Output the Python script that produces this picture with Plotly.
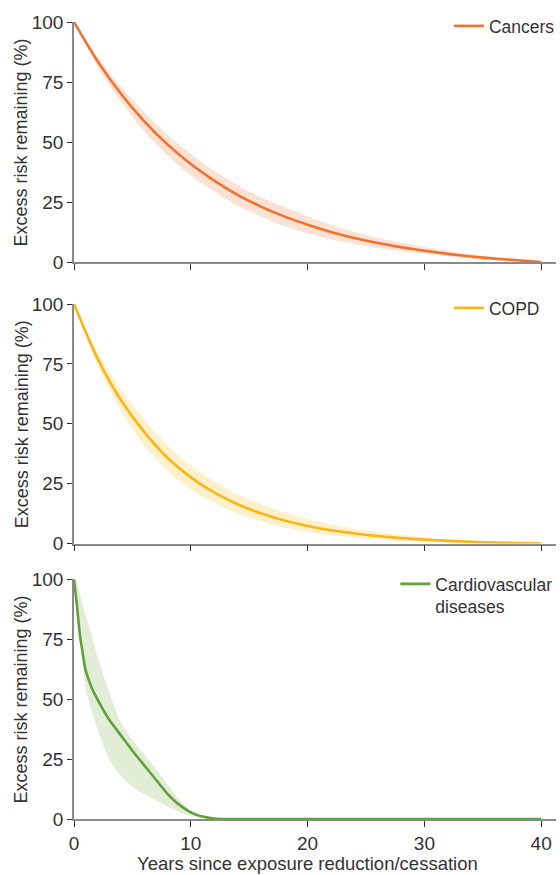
import plotly.graph_objects as go

# ---------------- data ----------------
years = [0, 2, 4, 6, 8, 10, 12, 14, 16, 18, 20, 22, 24, 26, 28, 30, 32, 34, 36, 38, 40]

cancer_mid = [100, 83.8, 70.2, 58.7, 49.0, 40.8, 33.9, 28.0, 23.1, 19.0, 15.5, 12.5, 10.0, 7.9, 6.2, 4.7, 3.4, 2.3, 1.4, 0.7, 0]
cancer_hi = [100, 85.5, 73.0, 62.5, 53.0, 45.0, 38.0, 32.0, 27.0, 23.0, 19.0, 15.5, 12.5, 10.0, 8.0, 6.2, 4.6, 3.2, 2.0, 1.0, 0]
cancer_lo = [100, 81.5, 67.0, 54.5, 44.5, 36.0, 29.5, 23.5, 19.0, 15.0, 12.0, 9.5, 7.5, 5.8, 4.5, 3.4, 2.4, 1.5, 0.9, 0.4, 0]

copd_mid = [100, 77.4, 60.0, 46.6, 35.8, 27.6, 21.3, 16.4, 12.6, 9.6, 7.3, 5.5, 4.2, 3.1, 2.3, 1.6, 1.1, 0.7, 0.4, 0.2, 0]
copd_hi = [100, 80.0, 64.5, 52.0, 41.0, 32.5, 26.0, 20.5, 16.5, 13.0, 10.2, 8.0, 6.2, 4.7, 3.5, 2.5, 1.7, 1.1, 0.6, 0.2, 0]
copd_lo = [100, 74.5, 55.5, 41.0, 30.5, 22.5, 17.0, 12.5, 9.3, 6.8, 4.8, 3.4, 2.4, 1.7, 1.1, 0.7, 0.4, 0.2, 0.1, 0.0, 0]

cvd_years = [0, 0.25, 0.5, 0.75, 1, 1.5, 2, 3, 4, 5, 6, 7, 8, 9, 10, 11, 12, 13, 40]
cvd_mid = [100, 89, 77, 69, 62, 55, 50, 41.5, 35, 28.5, 22.5, 16.5, 10.5, 6, 2.8, 1, 0.2, 0, 0]
cvd_hi = [100, 98, 94, 89, 85, 77, 68, 53, 40.5, 33, 27, 21, 14.5, 8, 3.3, 1, 0.2, 0, 0]
cvd_lo = [100, 88, 76, 65, 54, 45.5, 37.5, 25, 18, 13.5, 10.3, 7.8, 5.3, 3, 1.3, 0.3, 0, 0, 0]

series_names = ["Cancers", "COPD", "Cardiovascular<br>diseases"]
line_colors = ["#F2712D", "#FDB515", "#62A03A"]
band_colors = ["#FCE2D4", "#FFF0CC", "#E1EDD7"]

y_ticks = [0, 25, 50, 75, 100]
x_ticks = [0, 10, 20, 30, 40]
x_title = "Years since exposure reduction/cessation"
y_title = "Excess risk remaining (%)"

# ---------------- figure ----------------
W, H = 560, 875
ML = 74
fig = go.Figure()

panels = [
    (years, cancer_mid, cancer_hi, cancer_lo),
    (years, copd_mid, copd_hi, copd_lo),
    (cvd_years, cvd_mid, cvd_hi, cvd_lo),
]
# panel pixel extents (top, bottom)
pix = [(22, 262), (304, 543.5), (579.3, 819)]
TXT = "#333333"
FONT = "Liberation Sans, Arial, sans-serif"

legend_names = ["legend", "legend2", "legend3"]
for i, (xs, mid, hi, lo) in enumerate(panels):
    ax = "" if i == 0 else str(i + 1)
    smooth = 0.8 if i < 2 else 0.6
    fig.add_trace(go.Scatter(x=xs, y=lo, mode="lines", line=dict(width=0, shape="spline", smoothing=smooth),
                             showlegend=False, hoverinfo="skip", xaxis="x" + ax, yaxis="y" + ax))
    fig.add_trace(go.Scatter(x=xs, y=hi, mode="lines", line=dict(width=0, shape="spline", smoothing=smooth),
                             fill="tonexty", fillcolor=band_colors[i],
                             showlegend=False, hoverinfo="skip", xaxis="x" + ax, yaxis="y" + ax))
    fig.add_trace(go.Scatter(x=xs, y=mid, mode="lines", name=series_names[i],
                             line=dict(width=2.6, color=line_colors[i], shape="spline", smoothing=smooth),
                             legend=legend_names[i], xaxis="x" + ax, yaxis="y" + ax))

layout = dict(
    width=W, height=H,
    margin=dict(l=ML, r=0, t=0, b=0, pad=0),
    paper_bgcolor="white", plot_bgcolor="white",
    font=dict(family=FONT, color=TXT, size=19),
)

pw = W - ML
for i, (top, bot) in enumerate(pix):
    ax = "" if i == 0 else str(i + 1)
    dom = [1 - bot / H, 1 - top / H]
    layout["xaxis" + ax] = dict(
        domain=[0, 1], range=[0, 41.27], anchor="y" + ax, automargin=False,
        tickvals=x_ticks, showticklabels=(i == 2),
        ticks="outside", ticklen=6, tickwidth=1.2, tickcolor="#333333",
        showline=True, linecolor="#8a8a8a", linewidth=1.6,
        showgrid=False, zeroline=False, layer="below traces",
        tickfont=dict(size=19, color=TXT),
    )
    layout["yaxis" + ax] = dict(
        domain=dom, range=[0, 100], anchor="x" + ax, automargin=False,
        tickvals=y_ticks, ticks="outside", ticklen=5, tickwidth=1.2, tickcolor="#333333",
        showline=True, linecolor="#8a8a8a", linewidth=1.6,
        showgrid=False, zeroline=False, layer="below traces",
        tickfont=dict(size=19, color=TXT),
    )

# legends
leg_px = [(452, 21), (452, 303), (398, 579)]
for i, (lx, ly) in enumerate(leg_px):
    layout[legend_names[i]] = dict(
        x=(lx - ML) / pw, xanchor="left",
        y=1 - (ly - 13) / H, yanchor="top",
        bgcolor="rgba(0,0,0,0)", borderwidth=0,
        font=dict(size=17.5, color=TXT, family=FONT),
        valign="top", itemwidth=30, tracegroupgap=0,
    )

annotations = []
for i, (top, bot) in enumerate(pix):
    annotations.append(dict(
        text=y_title, textangle=-90, xref="paper", yref="paper",
        x=(21 - ML) / pw, y=1 - ((top + bot) / 2) / H, xanchor="center", yanchor="middle",
        showarrow=False, font=dict(size=18, color=TXT, family=FONT),
    ))
annotations.append(dict(
    text=x_title, xref="x3", yref="paper", x=20, y=1 - 863 / H,
    xanchor="center", yanchor="middle", showarrow=False,
    font=dict(size=18.5, color=TXT, family=FONT),
))
layout["annotations"] = annotations

fig.update_layout(**layout)
fig.write_html(
    "out.html",
    config={"displayModeBar": False},
    post_script="document.body.style.margin='0';document.body.style.overflow='hidden';",
)
